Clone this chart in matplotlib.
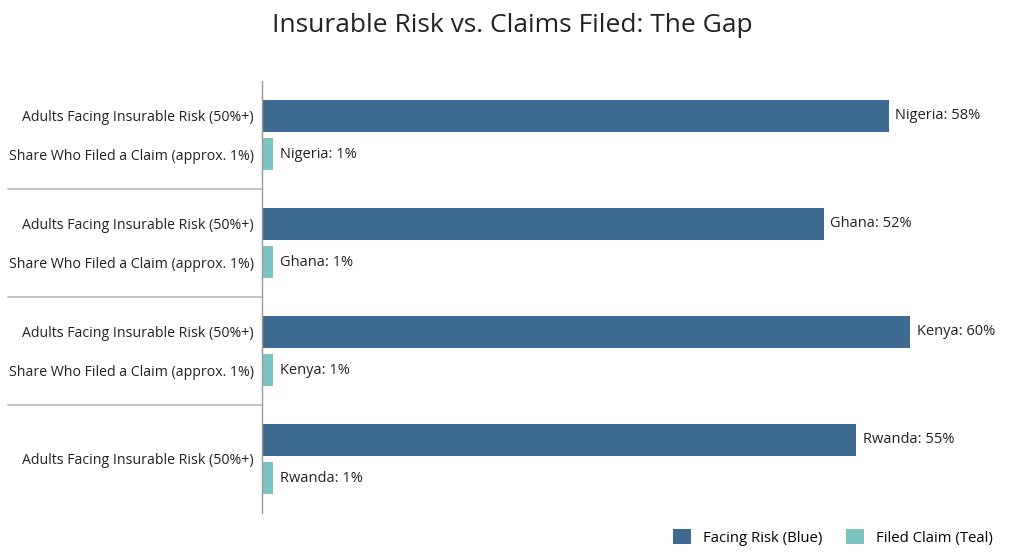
import matplotlib
matplotlib.use('Agg')
from matplotlib import pyplot as plt
import numpy as np

plt.rcParams['font.family'] = ['Open Sans', 'DejaVu Sans']

# data
countries = ['Nigeria', 'Ghana', 'Kenya', 'Rwanda']
facing_risk = [58, 52, 60, 55]
filed_claim = [1, 1, 1, 1]
risk_label = 'Adults Facing Insurable Risk (50%+)'
claim_label = 'Share Who Filed a Claim (approx. 1%)'
legend_labels = ['Facing Risk (Blue)', 'Filed Claim (Teal)']

blue = '#3f6a92'
teal = '#7cc4bf'

fig = plt.figure(figsize=(10.24, 5.59), dpi=100)
ax = fig.add_axes([262 / 1024, 1 - 513 / 559, 738 / 1024, 432 / 559])

g = np.arange(len(countries))
off = 0.176
h = 0.30
ax.barh(g - off, facing_risk, height=h, color=blue, label=legend_labels[0])
ax.barh(g + off, filed_claim, height=h, color=teal, label=legend_labels[1])

for i, c in enumerate(countries):
    ax.text(facing_risk[i] + 0.6, g[i] - off, f'{c}: {facing_risk[i]}%',
            va='center', ha='left', fontsize=10.5, color='#222222')
    ax.text(filed_claim[i] + 0.7, g[i] + off, f'{c}: {filed_claim[i]}%',
            va='center', ha='left', fontsize=10.5, color='#222222')

# y tick labels (last group only shows one label, as in the original)
ticks = []
labels = []
for i in g[:-1]:
    ticks += [i - off, i + off]
    labels += [risk_label, claim_label]
ticks.append(g[-1])
labels.append(risk_label)
ax.set_yticks(ticks)
ax.set_yticklabels(labels, fontsize=10.2, color='#222222')
ax.tick_params(axis='y', length=0, pad=6)

ax.set_xlim(0, 68.3)
ax.set_ylim(3.5, -0.5)
ax.set_xticks([])
for s in ['top', 'right', 'bottom']:
    ax.spines[s].set_visible(False)
ax.spines['left'].set_color('#999999')
ax.spines['left'].set_linewidth(1)

# separators between groups in the label area
trans = ax.get_yaxis_transform()
for i in g[:-1]:
    ax.plot([-254 / 738, 0], [i + 0.5, i + 0.5], transform=trans,
            color='#bbbbbb', lw=1.2, clip_on=False)

fig.suptitle('Insurable Risk vs. Claims Filed: The Gap', y=1 - 26 / 559,
             va='center', fontsize=19, color='#222222')

fig.legend(loc='lower right', bbox_to_anchor=(1006 / 1024, 0 / 559), ncol=2,
           frameon=False, fontsize=10.7, handlelength=1.2, handleheight=1.2,
           columnspacing=1.6)

fig.savefig('out.png', dpi=100, facecolor='white')
